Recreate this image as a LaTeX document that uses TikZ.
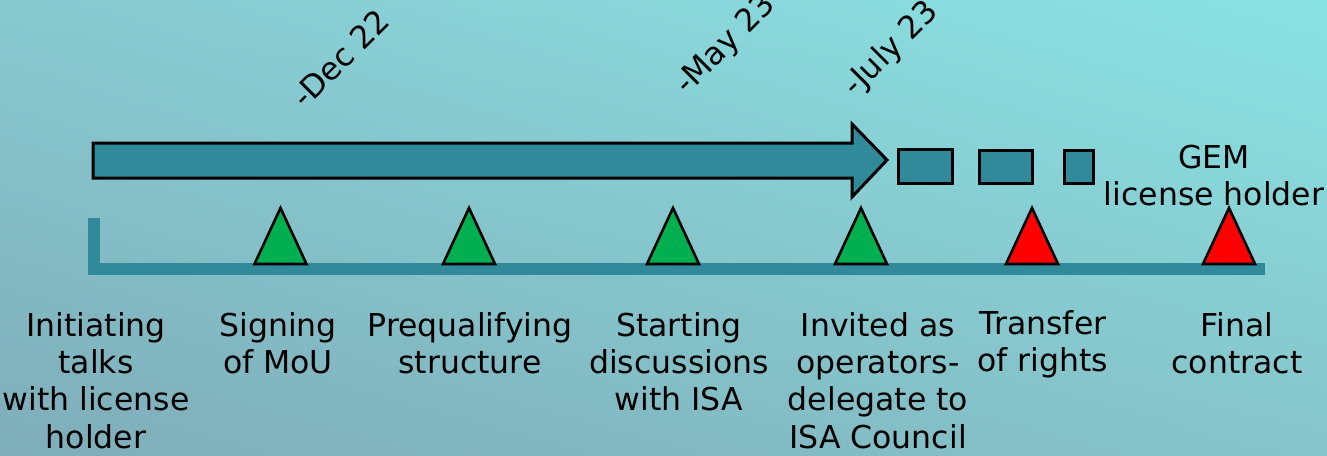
\documentclass[tikz,border=0pt]{standalone}
\usepackage{fontspec}
\usetikzlibrary{shadings}
\setmainfont{DejaVu Sans}
\definecolor{tealfill}{HTML}{318A99}
\definecolor{msgreen}{HTML}{00B050}
\definecolor{msred}{HTML}{FF0000}
\definecolor{bgUL}{HTML}{88C9D0}
\definecolor{bgUR}{HTML}{8AE3E3}
\definecolor{bgLL}{HTML}{7FADBA}
\definecolor{bgLR}{HTML}{86C4CA}
\tikzset{
  bigarrow/.style={fill=tealfill, draw=black, line width=3pt, line join=miter},
  stepbox/.style={fill=tealfill, draw=black, line width=3pt},
  barstyle/.style={fill=tealfill, draw=none},
  greentri/.style={fill=msgreen, draw=black, line width=2.6pt, line join=miter},
  redtri/.style={fill=msred, draw=black, line width=2.6pt, line join=miter},
  lbl/.style={align=center, inner sep=0pt, font=\fontsize{31.5}{37.3}\selectfont, anchor=north},
  datelbl/.style={inner sep=0pt, font=\fontsize{31.5}{37.3}\selectfont, rotate=45, anchor=base west},
}
\begin{document}
\begin{tikzpicture}[x=1pt,y=-1pt]
\useasboundingbox (0,0) rectangle (1327,455);
\shade[upper left=bgUL, upper right=bgUR, lower left=bgLL, lower right=bgLR] (0,0) rectangle (1327,455);

% big arrow
\draw[bigarrow] (93,143) -- (852,143) -- (852,124) -- (887,160) -- (852,197) -- (852,178) -- (93,178) -- cycle;
% small boxes
\draw[stepbox] (898,149) rectangle (952,183);
\draw[stepbox] (979,150) rectangle (1032,183);
\draw[stepbox] (1064,150) rectangle (1093,183);

% timeline bar
\fill[barstyle] (88,263) rectangle (1265,275);
\fill[barstyle] (88,218) rectangle (100,275);

% triangles
\foreach \cx/\st in {280.5/greentri, 469/greentri, 673/greentri, 861/greentri, 1032/redtri, 1229/redtri}{
  \draw[\st] (\cx-26,264) -- (\cx,208) -- (\cx+26,264) -- cycle;
}

% dates
\node[datelbl] (d1) at (305,110) {-Dec 22};
\node[datelbl] (d2) at (687,96) {-May 23};
\node[datelbl] (d3) at (855,98) {-July 23};

% GEM
\node[lbl] (gem) at (1214,145) {GEM\\license holder};

% bottom labels
\node[lbl] (l1) at (96,312) {Initiating\\talks\\with license\\holder};
\node[lbl] (l2) at (278,312) {Signing\\of MoU};
\node[lbl] (l3) at (470,312) {Prequalifying\\structure};
\node[lbl] (l4) at (679,312) {Starting\\discussions\\with ISA};
\node[lbl] (l5) at (878,312) {Invited as\\operators-\\delegate to\\ISA Council};
\node[lbl] (l6) at (1043,310) {Transfer\\of rights};
\node[lbl] (l7) at (1237,312) {Final\\contract};
\end{tikzpicture}
\end{document}
